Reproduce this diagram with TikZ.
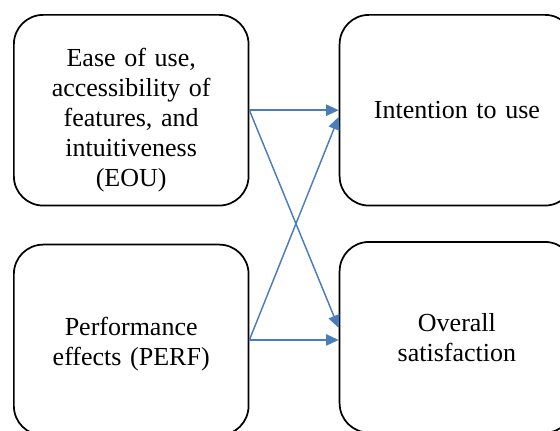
\documentclass[tikz,border=0pt]{standalone}
\usepackage{fontspec}
\setmainfont{Liberation Serif}
\usepackage{tikz}
\usetikzlibrary{arrows.meta,positioning}
\definecolor{linkblue}{HTML}{4A7EBB}

\begin{document}
\begin{tikzpicture}[
    x=0.75pt, y=-0.75pt,
    factor/.style={rectangle, draw, rounded corners=22pt, line width=1.3pt, inner sep=0pt,
        minimum width=176pt, minimum height=143pt, text width=170pt, align=center,
        font=\fontsize{19.5}{22.5}\selectfont},
    arrow/.style={-{Triangle[length=9.5pt,width=8.5pt]}, draw=linkblue, fill=linkblue, line width=1.1pt}
]
\useasboundingbox (0,0) rectangle (560,430);

\node[factor, anchor=north west, text height=29pt] (eou) at (13,14) {
    Ease of use,\\
    accessibility of\\
    features, and\\
    intuitiveness\\
    (EOU)
};

\node[factor, right=67pt of eou] (intent) {Intention to use};

\node[factor, below=28pt of eou, text height=19.5pt] (perf) {
    Performance\\
    effects (PERF)
};

\node[factor, below=26pt of intent] (satisf) {
    Overall\\
    satisfaction
};

\draw[arrow] (eou.east) -- (intent.west);
\draw[arrow] (eou.east) -- ([yshift=7pt]satisf.west);
\draw[arrow] (perf.east) -- ([yshift=-5pt]intent.west);
\draw[arrow] (perf.east) -- (perf.east -| satisf.west);

\end{tikzpicture}
\end{document}
